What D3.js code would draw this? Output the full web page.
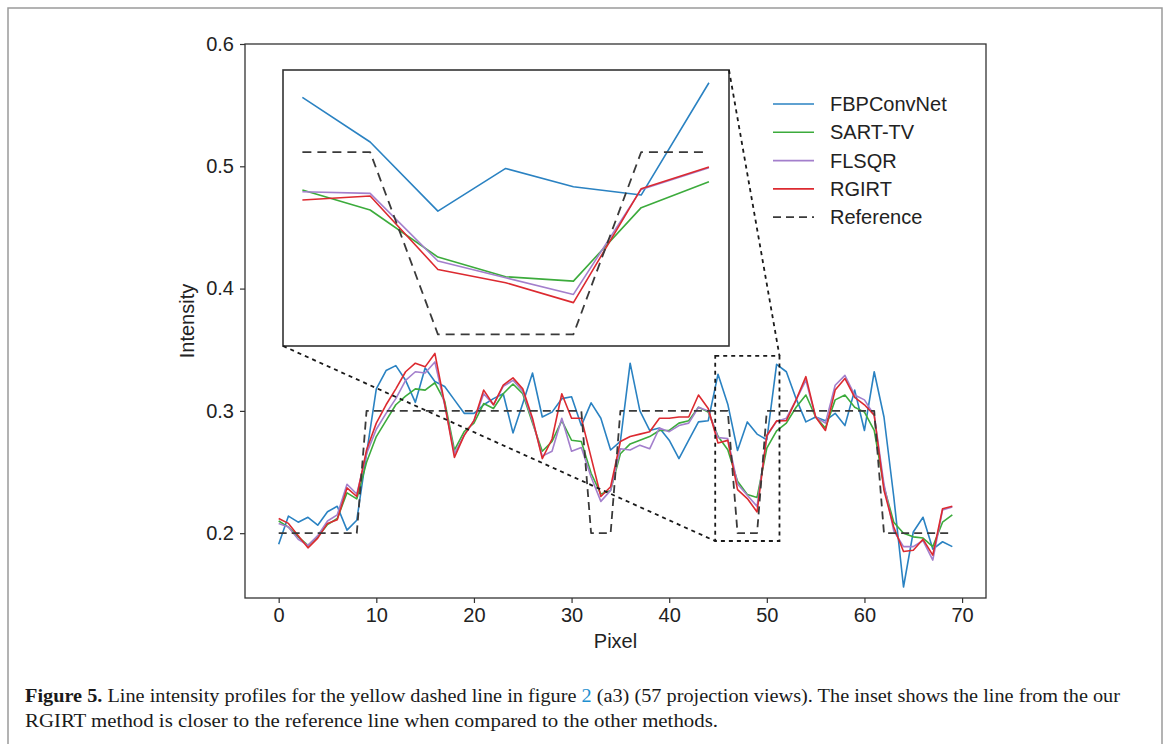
<!DOCTYPE html>
<html><head><meta charset="utf-8">
<script src="https://cdn.jsdelivr.net/npm/d3@7"></script>
<style>body{margin:0;background:#fff}svg{display:block}</style>
</head><body>
<svg id="chart" width="1170" height="744"></svg>
<script>
// ---------- data ----------
const pixels = [0,1,2,3,4,5,6,7,8,9,10,11,12,13,14,15,16,17,18,19,20,21,22,23,24,25,26,27,28,29,30,31,32,33,34,35,36,37,38,39,40,41,42,43,44,45,46,47,48,49,50,51,52,53,54,55,56,57,58,59,60,61,62,63,64,65,66,67,68,69];
const fbpconvnet = [0.191,0.214,0.209,0.213,0.2065,0.2175,0.222,0.2025,0.2106,0.265,0.318,0.333,0.337,0.325,0.307,0.335,0.324,0.320,0.309,0.298,0.298,0.305,0.310,0.314,0.282,0.306,0.331,0.295,0.299,0.310,0.3115,0.288,0.3066,0.294,0.268,0.275,0.339,0.300,0.284,0.286,0.276,0.261,0.276,0.291,0.292,0.330,0.3055,0.2676,0.291,0.281,0.2764,0.338,0.332,0.310,0.291,0.295,0.292,0.298,0.288,0.317,0.284,0.332,0.295,0.230,0.156,0.201,0.213,0.187,0.193,0.189];
const sartTV = [0.210,0.205,0.197,0.190,0.197,0.207,0.212,0.233,0.228,0.258,0.279,0.292,0.305,0.312,0.318,0.317,0.323,0.308,0.268,0.283,0.290,0.306,0.302,0.314,0.322,0.314,0.290,0.267,0.275,0.292,0.276,0.275,0.249,0.232,0.235,0.265,0.273,0.276,0.279,0.284,0.284,0.290,0.292,0.303,0.299,0.2792,0.2682,0.2424,0.2316,0.2292,0.2695,0.2837,0.290,0.303,0.313,0.295,0.286,0.309,0.313,0.303,0.299,0.284,0.238,0.209,0.200,0.197,0.196,0.189,0.209,0.215];
const flsqr = [0.208,0.205,0.195,0.190,0.198,0.210,0.215,0.240,0.232,0.265,0.285,0.298,0.310,0.325,0.332,0.331,0.340,0.305,0.265,0.280,0.292,0.314,0.305,0.320,0.325,0.316,0.292,0.263,0.267,0.294,0.267,0.270,0.246,0.226,0.235,0.269,0.268,0.272,0.269,0.286,0.283,0.288,0.290,0.303,0.300,0.2782,0.2773,0.2402,0.2310,0.2219,0.2795,0.2914,0.294,0.309,0.325,0.295,0.290,0.321,0.329,0.313,0.309,0.2965,0.240,0.202,0.189,0.189,0.194,0.178,0.219,0.2215];
const rgirt = [0.212,0.208,0.198,0.188,0.196,0.208,0.211,0.237,0.230,0.268,0.290,0.305,0.318,0.332,0.339,0.336,0.347,0.306,0.262,0.280,0.292,0.317,0.305,0.321,0.327,0.318,0.294,0.261,0.277,0.314,0.294,0.294,0.262,0.230,0.238,0.275,0.279,0.281,0.283,0.294,0.294,0.295,0.295,0.313,0.302,0.2737,0.2759,0.2356,0.2283,0.2174,0.2799,0.2918,0.292,0.309,0.328,0.295,0.284,0.317,0.3265,0.311,0.305,0.2965,0.235,0.205,0.185,0.186,0.195,0.182,0.220,0.222];
const reference = [0.2,0.2,0.2,0.2,0.2,0.2,0.2,0.2,0.2,0.3,0.3,0.3,0.3,0.3,0.3,0.3,0.3,0.3,0.3,0.3,0.3,0.3,0.3,0.3,0.3,0.3,0.3,0.3,0.3,0.3,0.3,0.3,0.2,0.2,0.2,0.3,0.3,0.3,0.3,0.3,0.3,0.3,0.3,0.3,0.3,0.3,0.3,0.2,0.2,0.2,0.3,0.3,0.3,0.3,0.3,0.3,0.3,0.3,0.3,0.3,0.3,0.3,0.2,0.2,0.2,0.2,0.2,0.2,0.2,0.2];
const seriesNames = ["FBPConvNet","SART-TV","FLSQR","RGIRT","Reference"];
const xTicks = [0,10,20,30,40,50,60,70];
const yTicks = [0.2,0.3,0.4,0.5,0.6];
const insetPixels = [45,46,47,48,49,50,51];
const insetXRange = [44.714, 51.296];
const insetYRange = [0.1936, 0.345];

// ---------- setup ----------
const colors = ["#2a82c2","#3cab3c","#a37fcc","#dc2a30","#3a3a3a"];
const seriesValues = [fbpconvnet, sartTV, flsqr, rgirt, reference];
const series = seriesNames.map((name,k)=>({name, color: colors[k], dashed: name==="Reference",
  values: pixels.map((p,i)=>({x:p, y:seriesValues[k][i]}))}));

const svg = d3.select("#chart");
const font = "'Liberation Sans', Arial, Helvetica, sans-serif";

// outer figure frame
svg.append("rect").attr("x",8).attr("y",8).attr("width",1154).attr("height",800)
  .attr("fill","none").attr("stroke","#9a9a9a").attr("stroke-width",1.5);

const L=245, R=986, T=44, B=598;
const x = d3.scaleLinear().domain([-3.45, 72.45]).range([L,R]);
const y = d3.scaleLinear().domain([0.147, 0.6]).range([B,T]);

svg.append("clipPath").attr("id","mainclip").append("rect")
  .attr("x",L).attr("y",T).attr("width",R-L).attr("height",B-T);

// axes
const xAxis = svg.append("g").attr("transform",`translate(0,${B})`)
  .call(d3.axisBottom(x).tickValues(xTicks).tickFormat(d3.format("d")).tickSize(5).tickPadding(5));
const yAxis = svg.append("g").attr("transform",`translate(${L},0)`)
  .call(d3.axisLeft(y).tickValues(yTicks).tickFormat(d3.format(".1f")).tickSize(5).tickPadding(6));
[xAxis,yAxis].forEach(a=>{
  a.select(".domain").remove();
  a.selectAll(".tick line").attr("stroke","#333").attr("stroke-width",1.2);
  a.selectAll(".tick text").attr("font-family",font).attr("font-size",20).attr("fill","#222");
});

// lines
const line = (sx,sy)=>d3.line().x(d=>sx(d.x)).y(d=>sy(d.y));
const gMain = svg.append("g").attr("clip-path","url(#mainclip)");
series.forEach(s=>{
  gMain.append("path").datum(s.values).attr("d",line(x,y))
    .attr("fill","none").attr("stroke",s.color).attr("stroke-width",s.dashed?1.8:1.6)
    .attr("stroke-dasharray",s.dashed?"8,5":null).attr("stroke-linejoin","round");
});

// spines
svg.append("rect").attr("x",L).attr("y",T).attr("width",R-L).attr("height",B-T)
  .attr("fill","none").attr("stroke","#333").attr("stroke-width",1.3);

// axis labels
svg.append("text").attr("x",(L+R)/2).attr("y",648).attr("text-anchor","middle")
  .attr("font-family",font).attr("font-size",20).attr("fill","#222").text("Pixel");
svg.append("text").attr("transform",`translate(194,${(T+B)/2}) rotate(-90)`).attr("text-anchor","middle")
  .attr("font-family",font).attr("font-size",20).attr("fill","#222").text("Intensity");

// inset
const iL=283, iR=729, iT=70, iB=346;
const xi = d3.scaleLinear().domain(insetXRange).range([iL,iR]);
const yi = d3.scaleLinear().domain(insetYRange).range([iB,iT]);
svg.append("clipPath").attr("id","insetclip").append("rect")
  .attr("x",iL).attr("y",iT).attr("width",iR-iL).attr("height",iB-iT);
svg.append("rect").attr("x",iL).attr("y",iT).attr("width",iR-iL).attr("height",iB-iT).attr("fill","#fff");
const gIn = svg.append("g").attr("clip-path","url(#insetclip)");
series.forEach(s=>{
  gIn.append("path").datum(s.values.filter(d=>insetPixels.includes(d.x))).attr("d",line(xi,yi))
    .attr("fill","none").attr("stroke",s.color).attr("stroke-width",s.dashed?1.8:1.6)
    .attr("stroke-dasharray",s.dashed?"9,6":null).attr("stroke-linejoin","round");
});
svg.append("rect").attr("x",iL).attr("y",iT).attr("width",iR-iL).attr("height",iB-iT)
  .attr("fill","none").attr("stroke","#333").attr("stroke-width",1.6);

// indicator rectangle & connectors
const rx0=x(insetXRange[0]), rx1=x(insetXRange[1]), ry0=y(insetYRange[1]), ry1=y(insetYRange[0]);
const dot = g=>g.attr("fill","none").attr("stroke","#1a1a1a").attr("stroke-width",1.8).attr("stroke-dasharray","4,4");
svg.append("rect").attr("x",rx0).attr("y",ry0).attr("width",rx1-rx0).attr("height",ry1-ry0).call(dot);
svg.append("line").attr("x1",iL).attr("y1",iB).attr("x2",rx0).attr("y2",ry1).call(dot);
svg.append("line").attr("x1",iR).attr("y1",iT).attr("x2",rx1).attr("y2",ry0).call(dot);

// legend
const leg = svg.append("g");
series.forEach((s,k)=>{
  const yy = 104 + k*28.3;
  leg.append("line").attr("x1",773).attr("x2",814).attr("y1",yy).attr("y2",yy)
    .attr("stroke",s.color).attr("stroke-width",s.dashed?1.8:1.6).attr("stroke-dasharray",s.dashed?"8,5":null);
  leg.append("text").attr("x",830).attr("y",yy+7).attr("font-family",font).attr("font-size",20)
    .attr("fill","#222").text(s.name);
});

// caption
const serif = "'Liberation Serif', 'Times New Roman', serif";
const c1 = svg.append("text").attr("x",25).attr("y",702).attr("font-family",serif).attr("font-size",18)
  .attr("fill","#1a1a1a").attr("textLength",1095).attr("lengthAdjust","spacingAndGlyphs");
c1.append("tspan").attr("font-weight","bold").text("Figure 5.");
c1.append("tspan").text(" Line intensity profiles for the yellow dashed line in figure ");
c1.append("tspan").attr("fill","#1e90d0").text("2");
c1.append("tspan").text(" (a3) (57 projection views). The inset shows the line from the our");
svg.append("text").attr("x",25).attr("y",727).attr("font-family",serif).attr("font-size",18)
  .attr("fill","#1a1a1a").attr("textLength",693).attr("lengthAdjust","spacingAndGlyphs")
  .text("RGIRT method is closer to the reference line when compared to the other methods.");
</script>
</body></html>
